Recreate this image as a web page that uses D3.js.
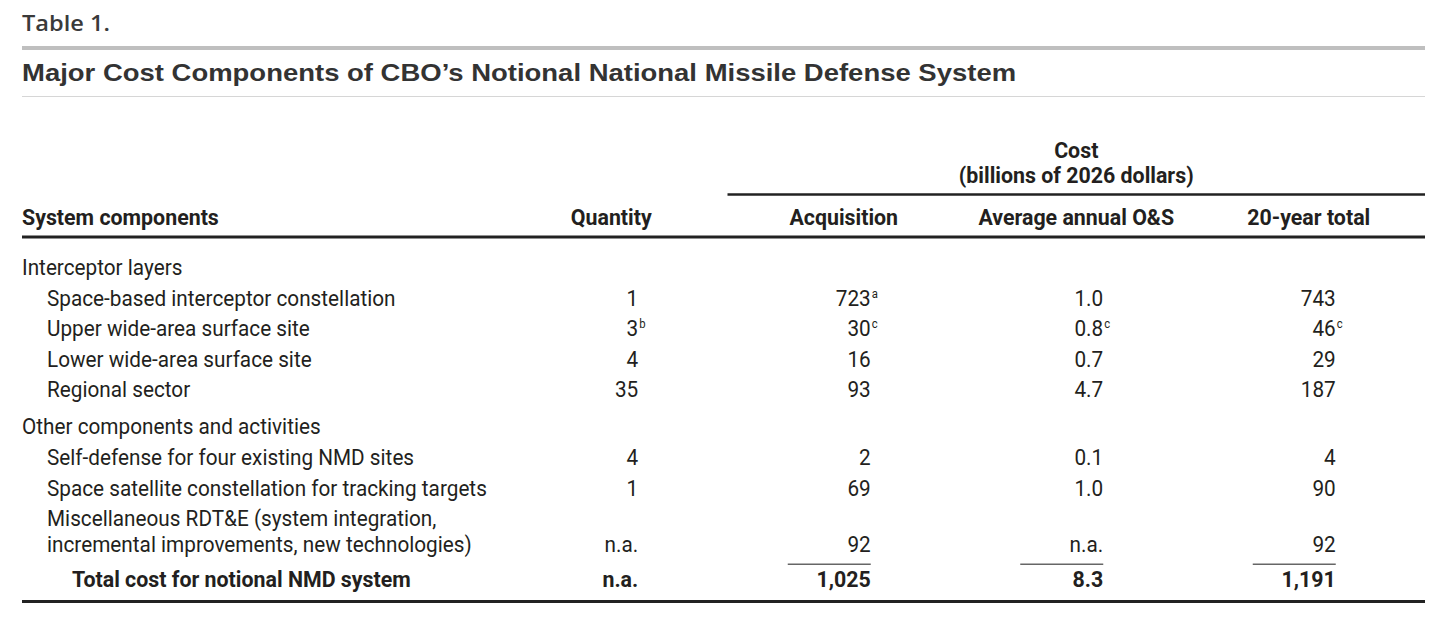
<!DOCTYPE html>
<html>
<head>
<meta charset="utf-8">
<script src="https://cdn.jsdelivr.net/npm/d3@7"></script>
<style>
  body { margin: 0; background: #fff; }
</style>
</head>
<body>
<svg id="table" width="1439" height="629"></svg>
<script>
// ---- table data ----
var tableNumber = "Table 1.";
var tableTitle = "Major Cost Components of CBO\u2019s Notional National Missile Defense System";
var costHeader = ["Cost", "(billions of 2026 dollars)"];
var firstHeader = "System components";
var columnKeys = ["quantity", "acquisition", "annualOS", "total20"];
var columnHeaders = ["Quantity", "Acquisition", "Average annual O&S", "20-year total"];

var rowLabels = [
    "Interceptor layers",
    "Space-based interceptor constellation",
    "Upper wide-area surface site",
    "Lower wide-area surface site",
    "Regional sector",
    "Other components and activities",
    "Self-defense for four existing NMD sites",
    "Space satellite constellation for tracking targets",
    "Miscellaneous RDT&E (system integration,\nincremental improvements, new technologies)",
    "Total cost for notional NMD system"
];
// 0 = group heading, 1 = item, 2 = total
var rowLevels = [0, 1, 1, 1, 1, 0, 1, 1, 1, 2];

var quantity    = [null, 1, 3, 4, 35, null, 4, 1, "n.a.", "n.a."];
var acquisition = [null, 723, 30, 16, 93, null, 2, 69, 92, 1025];
var annualOS    = [null, 1.0, 0.8, 0.7, 4.7, null, 0.1, 1.0, "n.a.", 8.3];
var total20     = [null, 743, 46, 29, 187, null, 4, 90, 92, 1191];

var footnotes = [
    {row: 1, col: "acquisition", mark: "a"},
    {row: 2, col: "quantity", mark: "b"},
    {row: 2, col: "acquisition", mark: "c"},
    {row: 2, col: "annualOS", mark: "c"},
    {row: 2, col: "total20", mark: "c"}
];

var columnValues = {
    quantity: quantity,
    acquisition: acquisition,
    annualOS: annualOS,
    total20: total20
};
var columnFormat = {
    quantity: d3.format("d"),
    acquisition: d3.format(",d"),
    annualOS: d3.format(".1f"),
    total20: d3.format(",d")
};

// ---- layout ----
var left = 22, right = 1425;
var bodyFont = "Roboto, 'Noto Sans', sans-serif";
var bodySize = 22;
var textColor = "#231f20";

var svg = d3.select("#table");

var xCol = d3.scaleBand()
    .domain(columnKeys)
    .range([495, right]);

function colCenter(k) {
    return xCol(k) + xCol.bandwidth() / 2;
}
function colRight(k) {
    return colCenter(k) + 27;
}

function measure(str, family, weight, size) {
    var t = svg.append("text")
        .style("font-family", family)
        .style("font-weight", weight)
        .style("font-size", size + "px")
        .text(str);
    var w = t.node().getComputedTextLength();
    t.remove();
    return w;
}

// the source uses a condensed face, so squeeze the installed one horizontally
var kBody = 440 / measure("Space satellite constellation for tracking targets", bodyFont, 400, bodySize);
var kBold = 339 / measure("Total cost for notional NMD system", bodyFont, 700, bodySize);

function addText(x, y, str, opts) {
    opts = opts || {};
    var k = opts.k || (opts.weight === 700 ? kBold : kBody);
    return svg.append("text")
        .attr("transform", "translate(" + x + "," + y + ") scale(" + k + ",1)")
        .attr("text-anchor", opts.anchor || "start")
        .style("font-family", opts.family || bodyFont)
        .style("font-weight", opts.weight || 400)
        .style("font-size", (opts.size || bodySize) + "px")
        .style("fill", opts.color || textColor)
        .text(str);
}

function hline(x1, x2, y, width, color) {
    svg.append("line")
        .attr("x1", x1).attr("x2", x2)
        .attr("y1", y).attr("y2", y)
        .attr("stroke", color)
        .attr("stroke-width", width);
}

// ---- heading ----
var labelFont = "'Open Sans', Lato, sans-serif";
var kLabel = 88 / measure(tableNumber, labelFont, 600, 22);
addText(left, 31, tableNumber, {family: labelFont, weight: 600, size: 22, color: "#3a3a3a", k: kLabel});

hline(left, right, 48, 4, "#bfbfbf");

var titleFont = "'Liberation Sans', Arial, sans-serif";
var kTitle = 995 / measure(tableTitle, titleFont, 700, 24.5);
addText(left, 81, tableTitle, {family: titleFont, weight: 700, size: 24.5, color: "#333", k: kTitle});

hline(left, right, 96.5, 1, "#d6d6d6");

// ---- column headers ----
var costCenter = (xCol("acquisition") + right) / 2;
addText(costCenter, 158, costHeader[0], {anchor: "middle", weight: 700});
addText(costCenter, 183, costHeader[1], {anchor: "middle", weight: 700});
hline(xCol("acquisition"), right, 194.5, 2.5, "#222");

addText(left, 225, firstHeader, {weight: 700});
columnKeys.forEach(function (k, i) {
    addText(colCenter(k), 225, columnHeaders[i], {anchor: "middle", weight: 700});
});
hline(left, right, 237, 3, "#222");

// ---- body rows ----
var rowIndent = [0, 25, 50];
var y = 275;
var lastLine = [];
rowLabels.forEach(function (label, i) {
    if (i > 0) {
        if (rowLevels[i] === 2) y += 35;
        else if (rowLevels[i] === 0) y += 37;
        else y += 30.6;
    }
    var lines = label.split("\n");
    var weight = rowLevels[i] === 2 ? 700 : 400;
    lines.forEach(function (line, j) {
        addText(left + rowIndent[rowLevels[i]], y + j * 26, line, {weight: weight});
    });
    y += (lines.length - 1) * 26;
    lastLine.push(y);
});

columnKeys.forEach(function (k) {
    columnValues[k].forEach(function (v, i) {
        if (v === null) return;
        var str = typeof v === "string" ? v : columnFormat[k](v);
        var weight = rowLevels[i] === 2 ? 700 : 400;
        addText(colRight(k), lastLine[i], str, {anchor: "end", weight: weight});
    });
});

footnotes.forEach(function (f) {
    addText(colRight(f.col) + 1, lastLine[f.row] - 8, f.mark, {size: 12});
});

// rules above the totals
var totalRow = rowLevels.indexOf(2);
columnKeys.slice(1).forEach(function (k) {
    hline(colRight(k) - 83, colRight(k), lastLine[totalRow] - 23, 1.5, "#666");
});

hline(left, right, 601.5, 3, "#222");
</script>
</body>
</html>
